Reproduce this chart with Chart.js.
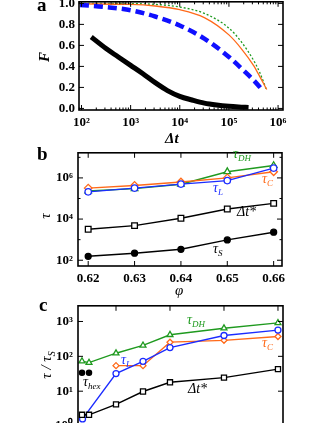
<!DOCTYPE html>
<html lang="en">
<head>
<meta charset="UTF-8">
<title>F, tau, tau/tauS</title>
<script src="https://cdn.jsdelivr.net/npm/chart.js"></script>
<style>
  body { margin: 0; width: 327px; height: 423px; overflow: hidden; background: #fff; position: relative;
         font-family: "Liberation Serif", serif; }
  canvas { position: absolute; left: 0; }
  .t { position: absolute; white-space: nowrap; line-height: 1; }
  .letter { font-weight: bold; font-size: 19px; }
  .ax { font-style: italic; font-weight: bold; font-size: 15px; }
  .rot { transform: translate(-50%, -50%) rotate(-90deg); }
  .lbl { font-style: italic; font-size: 14px; }
  .lbl sub { font-size: 9px; vertical-align: -3px; }
</style>
</head>
<body>
<canvas id="chartA" width="327" height="160" style="top:-10px"></canvas>
<canvas id="chartB" width="327" height="160" style="top:140px"></canvas>
<canvas id="chartC" width="327" height="150" style="top:293px"></canvas>

<div class="t letter" style="left:37px;top:-5px">a</div>
<div class="t letter" style="left:37px;top:144px">b</div>
<div class="t letter" style="left:39px;top:295px">c</div>

<div class="t ax rot" style="left:44px;top:57px">F</div>
<div class="t ax" style="left:165px;top:131px">Δt</div>
<div class="t ax rot" style="left:45px;top:216px;font-weight:normal">τ</div>
<div class="t ax" style="left:175px;top:283px;font-weight:normal">φ</div>
<div class="t ax rot" style="left:48px;top:365px;font-weight:normal">τ / τ<sub style="font-size:10px">S</sub></div>

<div class="t lbl" style="left:233px;top:147px;color:#1f9a1f">τ<sub>DH</sub></div>
<div class="t lbl" style="left:262px;top:172px;color:#ff6a1a">τ<sub>C</sub></div>
<div class="t lbl" style="left:213px;top:181px;color:#1c2cff">τ<sub>L</sub></div>
<div class="t lbl" style="left:237px;top:205px;color:#000">Δt*</div>
<div class="t lbl" style="left:213px;top:242px;color:#000">τ<sub>S</sub></div>

<div class="t lbl" style="left:187px;top:313px;color:#1f9a1f">τ<sub>DH</sub></div>
<div class="t lbl" style="left:262px;top:336px;color:#ff6a1a">τ<sub>C</sub></div>
<div class="t lbl" style="left:121px;top:353px;color:#1c2cff">τ<sub>L</sub></div>
<div class="t lbl" style="left:83px;top:375px;color:#000">τ<sub>hex</sub></div>
<div class="t lbl" style="left:188px;top:382px;color:#000">Δt*</div>

<script>
  // ---- panel a : F vs Δt ----
  const dtBlack = [158, 316, 562, 1000, 1780, 3160, 5620, 10000, 17800, 31600, 56200, 100000, 158000, 251000];
  const fBlack  = [0.68, 0.57, 0.49, 0.41, 0.33, 0.245, 0.17, 0.115, 0.08, 0.05, 0.032, 0.02, 0.014, 0.01];
  const dtBlue  = [93, 316, 1000, 3160, 10000, 31600, 100000, 200000, 316000, 490000];
  const fBlue   = [0.985, 0.965, 0.935, 0.875, 0.79, 0.665, 0.49, 0.36, 0.27, 0.17];
  const dtOrange = [93, 1000, 3160, 10000, 31600, 100000, 178000, 316000, 417000, 589000];
  const fOrange  = [0.995, 0.99, 0.975, 0.94, 0.865, 0.7, 0.57, 0.41, 0.31, 0.18];
  const dtGreen  = [93, 1000, 3160, 10000, 31600, 100000, 178000, 316000, 417000, 589000];
  const fGreen   = [1.0, 0.998, 0.99, 0.965, 0.905, 0.765, 0.635, 0.46, 0.35, 0.17];

  // ---- panel b : τ vs φ ----
  const phiB   = [0.62, 0.63, 0.64, 0.65, 0.66];
  const tauS   = [155, 220, 340, 970, 2300];
  const dtStar = [3200, 4800, 11000, 31000, 58000];
  const tauC   = [320000, 430000, 630000, 1000000, 2000000];
  const tauL   = [210000, 320000, 500000, 740000, 3000000];
  const tauDH  = [230000, 300000, 490000, 2000000, 4000000];

  // ---- panel c : τ/τS vs φ ----
  const phiC     = [0.6237, 0.625, 0.63, 0.635, 0.64, 0.65, 0.66];
  const dtStarC  = [2.1, 2.1, 4.2, 9.8, 18, 24.5, 43];
  const tauDHc   = [73, 66, 123, 206, 415, 640, 910];
  const phiCL    = [0.6238, 0.63, 0.635, 0.64, 0.65, 0.66];
  const tauLc    = [1.6, 32, 72, 178, 396, 566];
  const phiCC    = [0.63, 0.635, 0.64, 0.65, 0.66];
  const tauCc    = [54, 54, 255, 288, 370];
  const phiHex   = [0.6237, 0.625];
  const tauHex   = [34, 34];

  const GREEN = '#1f9a1f', ORANGE = '#ff6a1a', BLUE = '#1c2cff';
  const sup = { '-1': '⁻¹', 0: '⁰', 1: '¹', 2: '²', 3: '³', 4: '⁴', 5: '⁵', 6: '⁶', 7: '⁷' };
  const tickFont = { family: 'Liberation Serif', weight: 'bold', size: 13 };

  const pts = (xs, ys) => xs.map((x, i) => ({ x: x, y: ys[i] }));
  const pow10 = v => '10' + sup[Math.round(Math.log10(v))];

  function logMinor(lo, hi) {
    const out = [];
    for (let e = lo; e <= hi; e++) for (let k = 2; k <= 9; k++) out.push(k * Math.pow(10, e));
    return out;
  }

  // frame with inward ticks on all four sides
  const frame = {
    id: 'frame',
    afterDatasetsDraw(chart, args, opts) {
      const { ctx, chartArea: a, scales } = chart;
      ctx.save();
      ctx.strokeStyle = '#000';
      ctx.lineWidth = 1;
      const vx = (s, vals, len) => vals.forEach(v => {
        const p = s.getPixelForValue(v);
        if (p < a.left - 0.5 || p > a.right + 0.5) return;
        ctx.beginPath();
        ctx.moveTo(p, a.bottom); ctx.lineTo(p, a.bottom - len);
        ctx.moveTo(p, a.top); ctx.lineTo(p, a.top + len);
        ctx.stroke();
      });
      const vy = (s, vals, len) => vals.forEach(v => {
        const p = s.getPixelForValue(v);
        if (p < a.top - 0.5 || p > a.bottom + 0.5) return;
        ctx.beginPath();
        ctx.moveTo(a.left, p); ctx.lineTo(a.left + len, p);
        ctx.moveTo(a.right, p); ctx.lineTo(a.right - len, p);
        ctx.stroke();
      });
      vx(scales.x, scales.x.ticks.map(t => t.value), 5);
      vx(scales.x, opts.xMinor || [], 2.5);
      vy(scales.y, scales.y.ticks.map(t => t.value), 5);
      vy(scales.y, opts.yMinor || [], 2.5);
      ctx.lineWidth = 1.6;
      ctx.strokeRect(a.left, a.top, a.right - a.left, a.bottom - a.top);
      ctx.restore();
    }
  };

  function baseOptions(pad, yWidth, xHeight, yPad) {
    return {
      responsive: false,
      animation: false,
      layout: { padding: pad },
      plugins: { legend: { display: false }, tooltip: { enabled: false } },
      elements: { line: { tension: 0 } },
      scales: {
        x: { grid: { display: false, drawTicks: false }, border: { display: false },
             ticks: { font: tickFont, color: '#000', padding: 5, maxRotation: 0, autoSkip: false },
             afterFit: s => { s.height = xHeight; } },
        y: { grid: { display: false, drawTicks: false }, border: { display: false },
             ticks: { font: tickFont, color: '#000', padding: yPad, autoSkip: false },
             afterFit: s => { s.width = yWidth; } }
      }
    };
  }

  // ---- chart a ----
  const optA = baseOptions({ left: 0, right: 44, top: 9, bottom: 0 }, 79, 40, 4);
  optA.scales.x.type = 'logarithmic';
  optA.scales.x.min = 89; optA.scales.x.max = 1260000;
  optA.scales.x.afterBuildTicks = s => { s.ticks = [1e2, 1e3, 1e4, 1e5, 1e6].map(v => ({ value: v })); };
  optA.scales.x.ticks.callback = v => pow10(v);
  optA.scales.y.min = -0.015; optA.scales.y.max = 1.015;
  optA.scales.y.afterBuildTicks = s => { s.ticks = [0, 0.2, 0.4, 0.6, 0.8, 1.0].map(v => ({ value: v })); };
  optA.scales.y.ticks.callback = v => v.toFixed(1);
  optA.plugins.frame = { xMinor: logMinor(1, 5) };

  const curve = (x, y, color, w, dash) => ({
    data: pts(x, y), borderColor: color, borderWidth: w, borderDash: dash || [],
    pointRadius: 0, cubicInterpolationMode: 'monotone'
  });

  new Chart(document.getElementById('chartA'), {
    type: 'line',
    data: { datasets: [
      curve(dtBlack, fBlack, '#000', 5),
      curve(dtBlue, fBlue, '#1010ff', 4.5, [9, 5]),
      curve(dtOrange, fOrange, ORANGE, 1.3),
      curve(dtGreen, fGreen, GREEN, 1.3, [2, 2])
    ] },
    options: optA,
    plugins: [frame]
  });

  // ---- chart b ----
  const optB = baseOptions({ left: 0, right: 45, top: 9, bottom: 0 }, 78, 34, 5);
  optB.scales.x.type = 'linear';
  optB.scales.x.min = 0.6178; optB.scales.x.max = 0.6618;
  optB.scales.x.afterBuildTicks = s => { s.ticks = phiB.map(v => ({ value: v })); };
  optB.scales.x.ticks.callback = v => v.toFixed(2);
  optB.scales.y.type = 'logarithmic';
  optB.scales.y.min = 52.5; optB.scales.y.max = 1.66e7;
  optB.scales.y.afterBuildTicks = s => { s.ticks = [1e2, 1e4, 1e6].map(v => ({ value: v })); };
  optB.scales.y.ticks.callback = v => pow10(v);
  optB.plugins.frame = { yMinor: [1e3, 1e5, 1e7] };

  const ser = (x, y, color, style, fill, r) => ({
    data: pts(x, y), borderColor: color, borderWidth: 1.4, pointStyle: style,
    pointRadius: r, pointBorderColor: color, pointBackgroundColor: fill, pointBorderWidth: 1.3
  });

  new Chart(document.getElementById('chartB'), {
    type: 'line',
    data: { datasets: [
      ser(phiB, tauS, '#000', 'circle', '#000', 3),
      ser(phiB, dtStar, '#000', 'rect', '#fff', 4),
      ser(phiB, tauL, BLUE, 'circle', '#fff', 3.2),
      ser(phiB, tauC, ORANGE, 'rectRot', '#fff', 3.8),
      ser(phiB, tauDH, GREEN, 'triangle', '#fff', 3.8)
    ] },
    options: optB,
    plugins: [frame]
  });

  // ---- chart c ----
  const optC = baseOptions({ left: 0, right: 44, top: 10, bottom: 0 }, 78, 10, 5);
  optC.scales.x.type = 'linear';
  optC.scales.x.min = 0.62296; optC.scales.x.max = 0.66093;
  optC.scales.x.afterBuildTicks = s => { s.ticks = [0.63, 0.64, 0.65, 0.66].map(v => ({ value: v })); };
  optC.scales.x.ticks.display = false;
  optC.scales.y.type = 'logarithmic';
  optC.scales.y.min = 0.76; optC.scales.y.max = 2818;
  optC.scales.y.afterBuildTicks = s => { s.ticks = [1, 10, 100, 1000].map(v => ({ value: v })); };
  optC.scales.y.ticks.callback = v => pow10(v);
  optC.plugins.frame = {};

  new Chart(document.getElementById('chartC'), {
    type: 'line',
    data: { datasets: [
      ser(phiC, dtStarC, '#000', 'rect', '#fff', 3.6),
      ser(phiCL, tauLc, BLUE, 'circle', '#fff', 3),
      ser(phiCC, tauCc, ORANGE, 'rectRot', '#fff', 3),
      ser(phiC, tauDHc, GREEN, 'triangle', '#fff', 3.4),
      Object.assign(ser(phiHex, tauHex, '#000', 'circle', '#000', 2.6), { showLine: false })
    ] },
    options: optC,
    plugins: [frame]
  });
</script>
</body>
</html>
